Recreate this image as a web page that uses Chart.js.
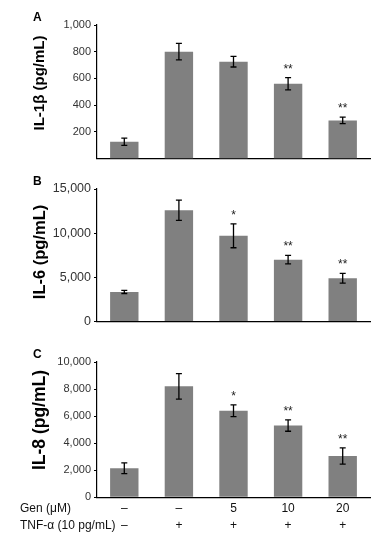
<!DOCTYPE html>
<html>
<head>
<meta charset="utf-8">
<script src="https://cdn.jsdelivr.net/npm/chart.js@4.4.1/dist/chart.umd.min.js"></script>
<style>
  html, body { margin: 0; padding: 0; background: #fff; }
  #wrap { position: relative; width: 388px; height: 539px; overflow: hidden; }
  canvas { position: absolute; left: 0; }
</style>
</head>
<body>
<div id="wrap">
  <canvas id="panelA" width="388" height="168" style="top:0px"></canvas>
  <canvas id="panelB" width="388" height="164" style="top:168px"></canvas>
  <canvas id="panelC" width="388" height="207" style="top:332px"></canvas>
</div>
<script>
// categories (x axis rows under panel C)
const genLabels = ["–", "–", "5", "10", "20"];
const tnfLabels = ["–", "+", "+", "+", "+"];
const rowLabels = ["Gen (μM)", "TNF-α (10 pg/mL)"];

// panel A: IL-1β
const il1bValues = [125, 800, 725, 560, 285];
const il1bErrors = [27, 62, 40, 46, 24];
const il1bStars = ["", "", "", "**", "**"];
const il1bTicks = [200, 400, 600, 800, 1000];

// panel B: IL-6
const il6Values = [3350, 12600, 9700, 7000, 4900];
const il6Errors = [180, 1150, 1350, 480, 550];
const il6Stars = ["", "", "*", "**", "**"];
const il6Ticks = [0, 5000, 10000, 15000];

// panel C: IL-8
const il8Values = [2150, 8200, 6400, 5300, 3050];
const il8Errors = [400, 940, 430, 420, 600];
const il8Stars = ["", "", "*", "**", "**"];
const il8Ticks = [0, 2000, 4000, 6000, 8000, 10000];

const FONT = "'Liberation Sans', Arial, Helvetica, sans-serif";
const ROW_FONT = 12;
const ROW_LINE = 17; // px between the Gen and TNF rows
const ROW_PAD = 3;

// error bars, significance stars, panel letter, axis title, row labels
const decorPlugin = {
  id: "decor",
  afterDatasetsDraw(chart) {
    const p = chart.options.plugins.decor;
    const ctx = chart.ctx;
    const xs = chart.scales.x;
    const ys = chart.scales.y;
    const vals = chart.data.datasets[0].data;
    ctx.save();
    ctx.strokeStyle = "#000";
    ctx.lineWidth = 1.3;
    vals.forEach((v, i) => {
      const x = xs.getPixelForValue(i);
      const top = ys.getPixelForValue(v + p.errors[i]);
      const bot = ys.getPixelForValue(v - p.errors[i]);
      ctx.beginPath();
      ctx.moveTo(x, top); ctx.lineTo(x, bot);
      ctx.moveTo(x - 3, top); ctx.lineTo(x + 3, top);
      ctx.moveTo(x - 3, bot); ctx.lineTo(x + 3, bot);
      ctx.stroke();
      if (p.stars[i]) {
        ctx.fillStyle = "#222";
        ctx.font = "12px " + FONT;
        ctx.textAlign = "center";
        ctx.textBaseline = "alphabetic";
        ctx.fillText(p.stars[i], x, top - 5);
      }
    });
    ctx.restore();
  },
  afterDraw(chart) {
    const p = chart.options.plugins.decor;
    const ctx = chart.ctx;
    const area = chart.chartArea;
    ctx.save();
    ctx.fillStyle = "#000";
    ctx.font = "bold 12px " + FONT;
    ctx.textAlign = "left";
    ctx.textBaseline = "middle";
    ctx.fillText(p.letter, 33, area.top - 7);

    ctx.translate(40, p.titleY);
    ctx.rotate(-Math.PI / 2);
    ctx.font = "bold " + p.titleSize + "px " + FONT;
    ctx.textAlign = "center";
    ctx.fillText(p.title, 0, 0);
    ctx.restore();

    if (p.rows) {
      const xs = chart.scales.x;
      ctx.save();
      ctx.fillStyle = "#111";
      ctx.font = ROW_FONT + "px " + FONT;
      ctx.textAlign = "left";
      ctx.textBaseline = "middle";
      rowLabels.forEach((lab, r) => {
        ctx.fillText(lab, 20, xs.top + ROW_PAD + ROW_LINE * (r + 0.5));
      });
      ctx.restore();
    }
  }
};

function makePanel(id, values, errors, stars, ticks, opts) {
  return new Chart(document.getElementById(id), {
    type: "bar",
    data: {
      labels: genLabels.map((g, i) => [g, tnfLabels[i]]),
      datasets: [{
        data: values,
        backgroundColor: "#808080",
        borderWidth: 0,
        barPercentage: 0.52,
        categoryPercentage: 1
      }]
    },
    options: {
      responsive: false,
      animation: false,
      layout: { padding: { top: opts.padTop, right: 18, left: 0, bottom: 0 } },
      plugins: {
        legend: { display: false },
        tooltip: { enabled: false },
        decor: {
          errors: errors,
          stars: stars,
          letter: opts.letter,
          title: opts.title,
          titleSize: opts.titleSize,
          titleY: opts.titleY,
          rows: opts.rows
        }
      },
      scales: {
        x: {
          grid: { display: false, drawTicks: false },
          border: { color: "#000", width: 1.2 },
          ticks: {
            display: !!opts.rows,
            color: "#111",
            padding: ROW_PAD,
            maxRotation: 0,
            autoSkip: false,
            font: { family: FONT, size: ROW_FONT, lineHeight: ROW_LINE / ROW_FONT }
          },
          afterFit(scale) { scale.height = opts.xHeight; }
        },
        y: {
          min: 0,
          max: ticks[ticks.length - 1],
          grid: { drawOnChartArea: false, tickLength: 3, color: "#000", tickWidth: 1 },
          border: { color: "#000", width: 1.2 },
          ticks: {
            color: "#333",
            padding: 3,
            font: { family: FONT, size: opts.tickSize },
            callback: (v) => v.toLocaleString("en-US")
          },
          afterBuildTicks(scale) { scale.ticks = ticks.map((v) => ({ value: v })); },
          afterFit(scale) { scale.width = 97; }
        }
      }
    },
    plugins: [decorPlugin]
  });
}

makePanel("panelA", il1bValues, il1bErrors, il1bStars, il1bTicks, {
  letter: "A", title: "IL-1β (pg/mL)", titleSize: 15, titleY: 83,
  padTop: 25, xHeight: 7, tickSize: 11
});
makePanel("panelB", il6Values, il6Errors, il6Stars, il6Ticks, {
  letter: "B", title: "IL-6 (pg/mL)", titleSize: 16.5, titleY: 252 - 168,
  padTop: 21, xHeight: 7.3, tickSize: 12.5
});
makePanel("panelC", il8Values, il8Errors, il8Stars, il8Ticks, {
  letter: "C", title: "IL-8 (pg/mL)", titleSize: 17.5, titleY: 420 - 332,
  padTop: 30, xHeight: 41.7, tickSize: 11, rows: true
});
</script>
</body>
</html>
